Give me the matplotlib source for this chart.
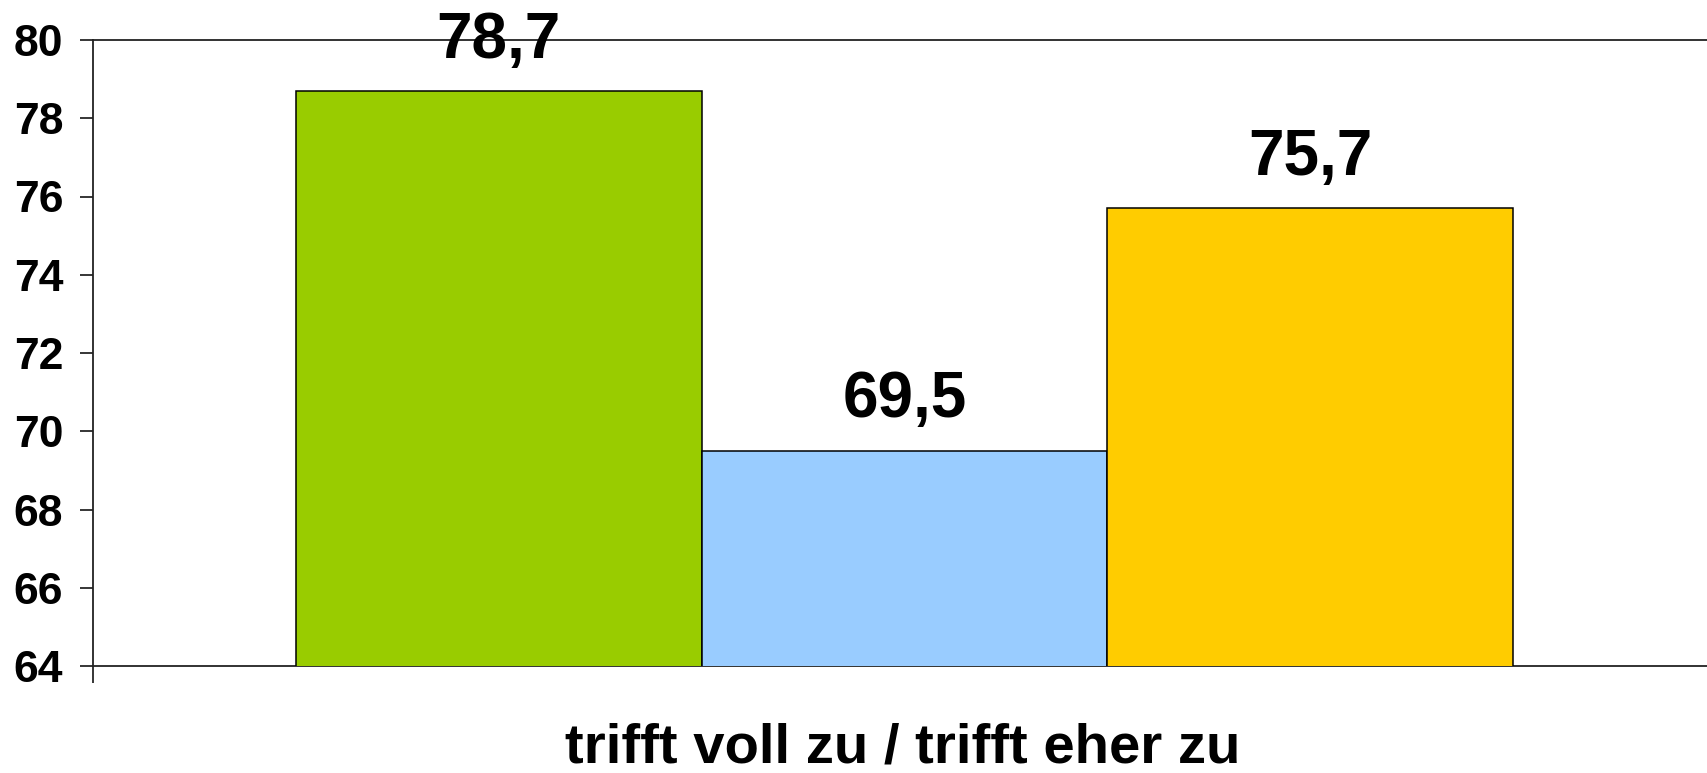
import matplotlib.pyplot as plt

# Data
category = "trifft voll zu / trifft eher zu"
values = [78.7, 69.5, 75.7]
labels = ["78,7", "69,5", "75,7"]
colors = ["#99CC00", "#99CCFF", "#FFCC00"]
yticks = [64, 66, 68, 70, 72, 74, 76, 78, 80]

plt.rcParams["font.family"] = ["Liberation Sans", "DejaVu Sans"]
plt.rcParams["font.weight"] = "bold"

fig = plt.figure(figsize=(17.08, 7.73), dpi=100)
ax = fig.add_axes([93 / 1708, 1 - 666 / 773, 1 - 93 / 1708, (666 - 40) / 773])

pos = [-1, 0, 1]
ax.bar(pos, values, width=1.0, bottom=0, color=colors,
       edgecolor="black", linewidth=1.1, zorder=3)

for x, v, lab in zip(pos, values, labels):
    ax.annotate(lab, xy=(x, v), xytext=(0, 24), textcoords="offset points",
                ha="center", va="baseline", fontsize=46, fontweight="bold",
                clip_on=False, zorder=5)

ax.set_xlim(-2, 1.98)
ax.set_ylim(64, 80)
ax.set_yticks(yticks)
ax.set_yticklabels([str(t) for t in yticks], fontsize=32, fontweight="bold")
ax.tick_params(axis="y", length=9.5, width=1.1, pad=12)

ax.set_xticks([])
ax.set_xticks([-2], minor=True)
ax.tick_params(axis="x", which="minor", length=12, width=1.1, direction="out")

for side in ["left", "bottom", "top"]:
    ax.spines[side].set_linewidth(1.3)
    ax.spines[side].set_color("#222222")
ax.spines["right"].set_visible(False)

fig.text(0.5 + 0.5 * 93 / 1708 + 0.001, 1 - 749 / 773, category,
         ha="center", va="center", fontsize=40.5, fontweight="bold")

fig.savefig("out.png", dpi=100)
